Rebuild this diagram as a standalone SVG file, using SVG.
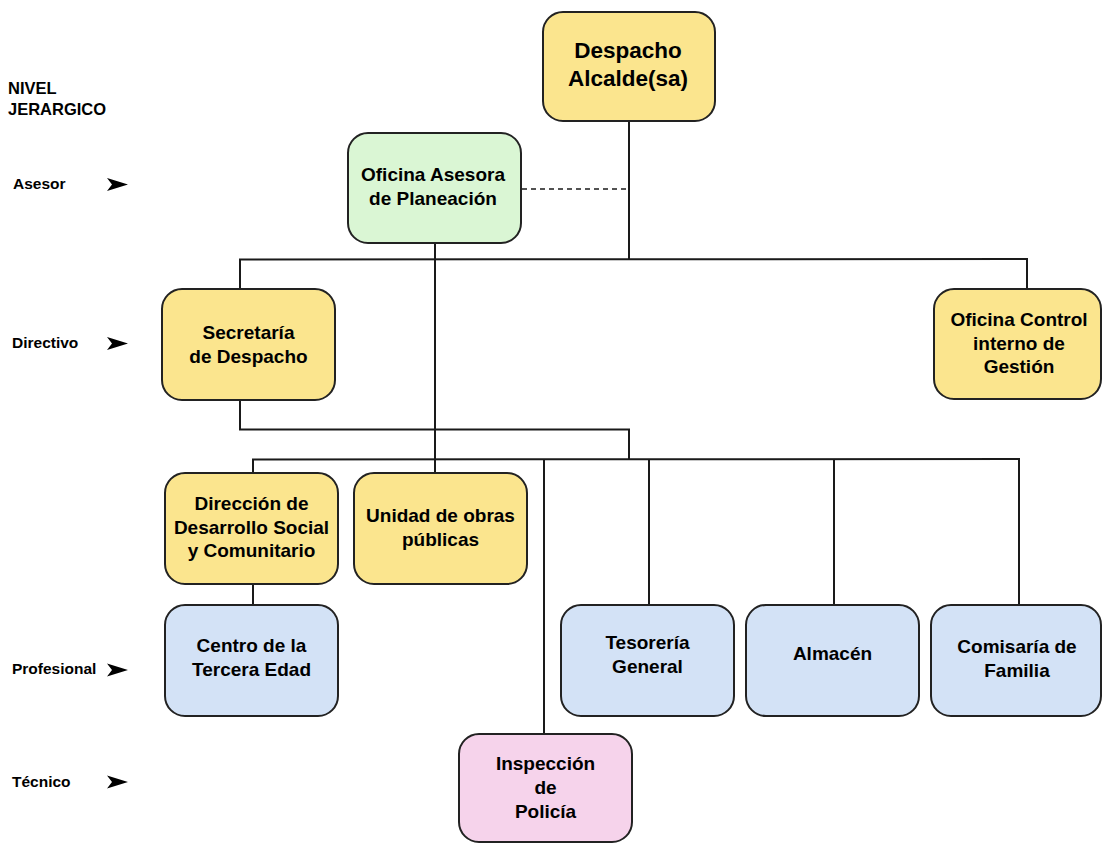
<svg xmlns="http://www.w3.org/2000/svg" width="1102" height="844" viewBox="0 0 1102 844">
<style>
  .box { stroke: #222; stroke-width: 2; }
  .y { fill: #fbe58e; }
  .g { fill: #daf6d4; }
  .b { fill: #d3e2f6; }
  .p { fill: #f6d3eb; }
  .t { font-family: "Liberation Sans", Arial, sans-serif; font-weight: bold; font-size: 19px; fill: #000; text-anchor: middle; }
  .big { font-size: 22.5px; }
  .lbl { font-family: "Liberation Sans", Arial, sans-serif; font-weight: bold; font-size: 15.5px; fill: #000; }
  .hdr { font-size: 16.5px; }
  .ln { stroke: #1a1a1a; stroke-width: 2; fill: none; }
  .dash { stroke: #1a1a1a; stroke-width: 1.6; stroke-dasharray: 5 4; fill: none; }
  .arr { fill: #000; }
</style>
<rect width="1102" height="844" fill="#ffffff"/>

<g id="levels">
  <text class="lbl hdr" x="8" y="94">NIVEL</text>
  <text class="lbl hdr" x="8" y="115">JERARGICO</text>
  <text class="lbl" x="13" y="189">Asesor</text>
  <path class="arr" d="M107,178 L128,184.5 L107,191 L112,184.5 Z"/>
  <text class="lbl" x="12" y="348">Directivo</text>
  <path class="arr" d="M107,337 L128,343.5 L107,350 L112,343.5 Z"/>
  <text class="lbl" x="12" y="674">Profesional</text>
  <path class="arr" d="M107,663.5 L128,670 L107,676.5 L112,670 Z"/>
  <text class="lbl" x="12" y="787">Técnico</text>
  <path class="arr" d="M107,775.5 L128,782 L107,788.5 L112,782 Z"/>
</g>

<g id="connectors">
  <polyline class="ln" points="629,121 629,259"/>
  <polyline class="ln" points="240,290 240,259.5 1027,259 1027,289"/>
  <line class="dash" x1="522" y1="189" x2="629" y2="189"/>
  <polyline class="ln" points="435,243 435,473"/>
  <polyline class="ln" points="240,400 240,429.5 629,429.5 629,459"/>
  <polyline class="ln" points="253,473 253,459.5 1019,459 1019,605"/>
  <line class="ln" x1="544" y1="459.5" x2="544" y2="734"/>
  <line class="ln" x1="649" y1="459.5" x2="649" y2="605"/>
  <line class="ln" x1="834" y1="459.5" x2="834" y2="605"/>
  <line class="ln" x1="253" y1="584" x2="253" y2="605"/>
</g>

<g id="despacho">
  <rect class="box y" x="543" y="12" width="172" height="109" rx="20"/>
  <text class="t big" x="628" y="58">Despacho</text>
  <text class="t big" x="628" y="86">Alcalde(sa)</text>
</g>
<g id="asesora">
  <rect class="box g" x="348" y="133" width="173" height="110" rx="20"/>
  <text class="t" x="433" y="181">Oficina Asesora</text>
  <text class="t" x="433" y="205">de Planeación</text>
</g>
<g id="secretaria">
  <rect class="box y" x="162" y="289" width="173" height="111" rx="20"/>
  <text class="t" x="248.5" y="339">Secretaría</text>
  <text class="t" x="248.5" y="363">de Despacho</text>
</g>
<g id="control">
  <rect class="box y" x="934" y="289" width="167" height="110" rx="20"/>
  <text class="t" x="1019" y="326">Oficina Control</text>
  <text class="t" x="1019" y="350">interno de</text>
  <text class="t" x="1019" y="373">Gestión</text>
</g>
<g id="direccion">
  <rect class="box y" x="165" y="473" width="173" height="111" rx="20"/>
  <text class="t" x="251.5" y="510">Dirección de</text>
  <text class="t" x="251.5" y="534">Desarrollo Social</text>
  <text class="t" x="251.5" y="557">y Comunitario</text>
</g>
<g id="unidad">
  <rect class="box y" x="354" y="473" width="173" height="111" rx="20"/>
  <text class="t" x="440.5" y="522">Unidad de obras</text>
  <text class="t" x="440.5" y="546">públicas</text>
</g>
<g id="centro">
  <rect class="box b" x="165" y="605" width="173" height="111" rx="20"/>
  <text class="t" x="251.5" y="652">Centro de la</text>
  <text class="t" x="251.5" y="676">Tercera Edad</text>
</g>
<g id="tesoreria">
  <rect class="box b" x="561" y="605" width="173" height="111" rx="20"/>
  <text class="t" x="647.5" y="649">Tesorería</text>
  <text class="t" x="647.5" y="673">General</text>
</g>
<g id="almacen">
  <rect class="box b" x="746" y="605" width="173" height="111" rx="20"/>
  <text class="t" x="832.5" y="660">Almacén</text>
</g>
<g id="comisaria">
  <rect class="box b" x="931" y="605" width="170" height="111" rx="20"/>
  <text class="t" x="1017" y="653">Comisaría de</text>
  <text class="t" x="1017" y="677">Familia</text>
</g>
<g id="inspeccion">
  <rect class="box p" x="459" y="734" width="173" height="108" rx="20"/>
  <text class="t" x="545.5" y="770">Inspección</text>
  <text class="t" x="545.5" y="794">de</text>
  <text class="t" x="545.5" y="818">Policía</text>
</g>
</svg>
